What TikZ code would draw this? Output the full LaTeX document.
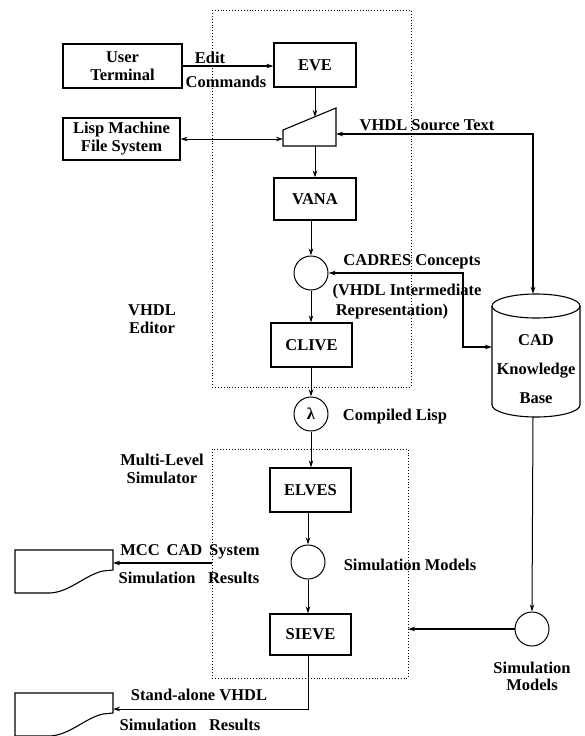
\documentclass[tikz,border=0pt]{standalone}
\usepackage{fontspec}
\setmainfont{Liberation Serif}
\usetikzlibrary{arrows.meta}
\begin{document}
\begin{tikzpicture}[x=1pt,y=1pt,yscale=-1,
  every node/.style={font=\bfseries\fontsize{16.5}{18}\selectfont},
  box/.style={draw, line width=1.2pt, inner sep=0pt, align=center},
  circ/.style={draw, circle, line width=1pt, minimum size=34pt, inner sep=0pt},
  lbl/.style={align=center, inner sep=0pt},
  conn/.style={line width=1pt, -{Stealth[length=7pt,width=4.5pt]}},
  dconn/.style={line width=1pt, {Stealth[length=7pt,width=4.5pt]}-{Stealth[length=7pt,width=4.5pt]}},
  frame/.style={dotted, line width=0.9pt},
  shapeline/.style={line width=1.1pt}]
\useasboundingbox (0,0) rectangle (585,736);

% dotted frames
\draw[frame] (212,10) rectangle (411,387);
\draw[frame] (212,449) rectangle (408,678);
\coordinate (frameBL) at (212,563);
\coordinate (frameBR) at (408,629);

% boxes
\node[box, minimum width=119pt, minimum height=44pt] (user) at (122.5,66) {User\\Terminal};
\node[box, minimum width=82pt, minimum height=44pt] (eve) at (315,65) {EVE};
\node[box, minimum width=117pt, minimum height=42pt] (lisp) at (121.5,139) {Lisp Machine\\File System};
\node[box, minimum width=82pt, minimum height=42pt] (vana) at (315,199) {VANA};
\node[circ] (cad) at (311,273) {};
\node[box, minimum width=81pt, minimum height=44pt] (clive) at (311.5,345) {CLIVE};
\node[circ] (lam) at (311,414) {λ};
\node[box, minimum width=81pt, minimum height=44pt] (elves) at (310.5,490) {ELVES};
\node[circ] (sim) at (308,562) {};
\node[box, minimum width=81pt, minimum height=41pt] (sieve) at (310.5,634.5) {SIEVE};
\node[circ] (simr) at (532,629) {};

% trapezoid (editor buffer)
\draw[shapeline] (283,130) -- (336,108) -- (336,146) -- (283,146) -- cycle;
\coordinate (trapL) at (283,139);
\coordinate (trapR) at (336,134);
\coordinate (trapT) at (315,117);
\coordinate (trapB) at (315,146);

% knowledge base cylinder
\draw[shapeline] (536,306) ellipse[x radius=44, y radius=12];
\draw[shapeline] (492,306) -- (492,405) arc[start angle=180, end angle=0, x radius=44, y radius=12] -- (580,306);
\coordinate (kbtop) at (533,294);
\coordinate (kbbot) at (533,417);
\coordinate (kbleft) at (492,347);
\coordinate (cadbend) at (463,300);
\node[lbl, font=\bfseries\fontsize{16.5}{29}\selectfont] (kbtext) at (536,369) {CAD\\Knowledge\\Base};

% document shapes
\draw[shapeline] (113,550) -- (15,550) -- (15,593) -- (50,593) .. controls (70,592) and (85,575) .. (103,571) -- (113,570) -- cycle;
\coordinate (doc1R) at (113,563);
\draw[shapeline] (113,693) -- (15,693) -- (15,736) -- (50,736) .. controls (70,735) and (85,718) .. (103,714) -- (113,713) -- cycle;
\coordinate (doc2R) at (113,709);

% connectors
\draw[conn, line width=1.5pt] (user.east) -- (user.east -| eve.west);
\draw[dconn] (lisp.east) -- (lisp.east -| trapL);
\draw[conn] (eve.south) -- (trapT);
\draw[conn] (trapB) -- (vana.north);
\draw[conn] (cad |- vana.south) -- (cad.north);
\draw[conn] (cad.south) -- (cad |- clive.north);
\draw[conn] (cad |- clive.south) -- (lam.north);
\draw[conn] (lam.south) -- (lam |- elves.north);
\draw[conn] (sim |- elves.south) -- (sim.north);
\draw[conn] (sim.south) -- (sim |- sieve.north);
\draw[conn] (sim |- sieve.south) |- (doc2R);
\draw[dconn, line width=1.3pt] (trapR) -| (kbtop);
\draw[dconn, line width=1.3pt] (cad.east) -| (cadbend) |- (kbleft);
\draw[conn] (kbbot) -- (simr.north);
\draw[conn, line width=1.3pt] (simr.west) -- (frameBR);
\draw[conn, line width=1.3pt] (frameBL) -- (doc1R);

% labels
\node[lbl] (edit) at (210,58) {Edit};
\node[lbl] (cmds) at (226,82) {Commands};
\node[lbl] (vsrc) at (427,125) {VHDL Source Text};
\node[lbl] (cadres) at (412,262) {CADRES Concepts};
\node[lbl] (vir1) at (407,292) {(VHDL Intermediate};
\node[lbl] (vir2) at (392,312) {Representation)};
\node[lbl] (vedit) at (152,319) {VHDL\\Editor};
\node[lbl] (clisp) at (395,417) {Compiled Lisp};
\node[lbl] (mls) at (162,469) {Multi-Level\\Simulator};
\node[lbl] (mcc1) at (190,552) {MCC\ \,CAD\ \,System};
\node[lbl] (mcc2) at (189,578) {Simulation\ \ \ Results};
\node[lbl] (smod) at (410,565) {Simulation Models};
\node[lbl] (sa1) at (199,695) {Stand-alone VHDL};
\node[lbl] (sa2) at (190,725) {Simulation\ \ \ Results};
\node[lbl, font=\bfseries\fontsize{16.5}{17}\selectfont] (smodr) at (532,676) {Simulation\\Models};
\end{tikzpicture}
\end{document}
